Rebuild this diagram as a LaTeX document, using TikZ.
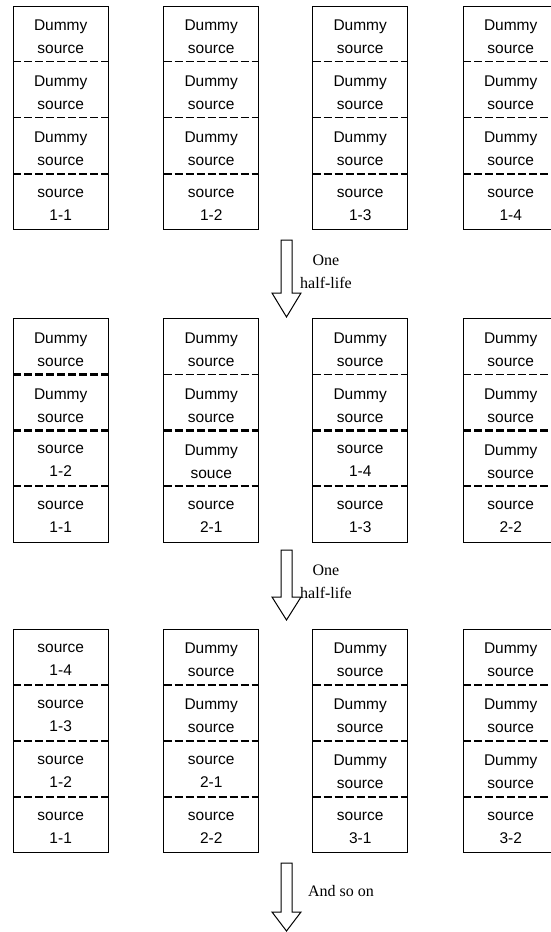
\documentclass[tikz,border=0pt]{standalone}
\usepackage{fontspec}
\setmainfont{Liberation Serif}
\setsansfont{Liberation Sans}
\tikzset{
  cell/.style={minimum width=95pt, minimum height=55.5pt, inner sep=0pt, anchor=north west},
  celltext/.style={inner sep=0pt, font=\sffamily\fontsize{15.5}{23}\selectfont, align=center},
  thindiv/.style={dash pattern=on 8pt off 3pt, line width=0.9pt},
  thickdiv/.style={dash pattern=on 8pt off 3pt, line width=2.4pt},
  stackframe/.style={line width=1pt},
  blockarrow/.style={line width=1pt, fill=white},
  steplabel/.style={font=\fontsize{16}{22.5}\selectfont, align=center}
}
\newcommand{\mkstack}[7]{%
  \node[cell] (#1a) at (#2,#3) {};
  \node[cell, anchor=north] (#1b) at (#1a.south) {};
  \node[cell, anchor=north] (#1c) at (#1b.south) {};
  \node[cell, anchor=north] (#1d) at (#1c.south) {};
  \node[celltext] (#1at) at ([yshift=-3pt]#1a.center) {#4};
  \node[celltext] (#1bt) at ([yshift=-3pt]#1b.center) {#5};
  \node[celltext] (#1ct) at ([yshift=-3pt]#1c.center) {#6};
  \node[celltext] (#1dt) at ([yshift=-3pt]#1d.center) {#7};
  \draw[stackframe] (#1a.north west) rectangle (#1d.south east);
}
\newcommand{\mkdivs}[4]{%
  \draw[#2] (#1a.south west) -- (#1a.south east);
  \draw[#3] (#1b.south west) -- (#1b.south east);
  \draw[#4] (#1c.south west) -- (#1c.south east);
}
\newcommand{\mkarrow}[5]{%
  \coordinate (#1) at (#2,#3);
  \draw[blockarrow] (#2-5.5,#3) -- (#2+5.5,#3) -- (#2+5.5,#4) -- (#2+14.5,#4)
    -- (#2,#5) -- (#2-14.5,#4) -- (#2-5.5,#4) -- cycle;
}
\begin{document}
\begin{tikzpicture}[x=1pt,y=-1pt]
\useasboundingbox (0,0) rectangle (550,932);
% row 1
\mkstack{ra}{13}{6}{Dummy\\source}{Dummy\\source}{Dummy\\source}{source\\1-1}
\mkstack{rb}{163.5}{6}{Dummy\\source}{Dummy\\source}{Dummy\\source}{source\\1-2}
\mkstack{rc}{312.5}{6}{Dummy\\source}{Dummy\\source}{Dummy\\source}{source\\1-3}
\mkstack{rd}{463}{6}{Dummy\\source}{Dummy\\source}{Dummy\\source}{source\\1-4}
\mkdivs{ra}{thindiv}{thindiv}{thickdiv}
\mkdivs{rb}{thindiv}{thindiv}{thickdiv}
\mkdivs{rc}{thindiv}{thindiv}{thickdiv}
\mkdivs{rd}{thindiv}{thindiv}{thickdiv}
% arrow 1
\mkarrow{arr1}{286.5}{240}{293}{317}
\node[steplabel] (lab1) at (326,272) {One\\half-life};
% row 2
\mkstack{sa}{13}{318.5}{Dummy\\source}{Dummy\\source}{source\\1-2}{source\\1-1}
\mkstack{sb}{163.5}{318.5}{Dummy\\source}{Dummy\\source}{Dummy\\souce}{source\\2-1}
\mkstack{sc}{312.5}{318.5}{Dummy\\source}{Dummy\\source}{source\\1-4}{source\\1-3}
\mkstack{sd}{463}{318.5}{Dummy\\source}{Dummy\\source}{Dummy\\source}{source\\2-2}
\mkdivs{sa}{thickdiv}{thickdiv}{thickdiv}
\mkdivs{sb}{thindiv}{thickdiv}{thickdiv}
\mkdivs{sc}{thindiv}{thickdiv}{thickdiv}
\mkdivs{sd}{thindiv}{thickdiv}{thickdiv}
% arrow 2
\mkarrow{arr2}{286.5}{550}{597}{620}
\node[steplabel] (lab2) at (326,582) {One\\half-life};
% row 3
\mkstack{ta}{13}{629}{source\\1-4}{source\\1-3}{source\\1-2}{source\\1-1}
\mkstack{tb}{163.5}{629}{Dummy\\source}{Dummy\\source}{source\\2-1}{source\\2-2}
\mkstack{tc}{312.5}{629}{Dummy\\source}{Dummy\\source}{Dummy\\source}{source\\3-1}
\mkstack{td}{463}{629}{Dummy\\source}{Dummy\\source}{Dummy\\source}{source\\3-2}
\mkdivs{ta}{thickdiv}{thickdiv}{thickdiv}
\mkdivs{tb}{thickdiv}{thickdiv}{thickdiv}
\mkdivs{tc}{thickdiv}{thickdiv}{thickdiv}
\mkdivs{td}{thickdiv}{thickdiv}{thickdiv}
% arrow 3
\mkarrow{arr3}{286.5}{863}{912}{931}
\node[steplabel] (lab3) at (341,891) {And so on};
\end{tikzpicture}
\end{document}
